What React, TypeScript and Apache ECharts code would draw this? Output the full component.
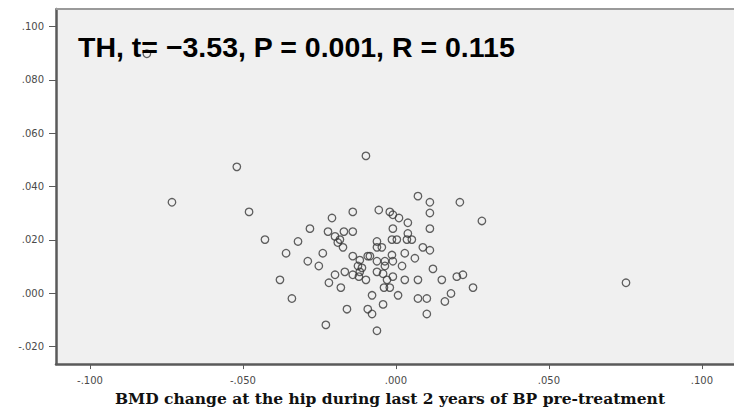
import React, { useEffect, useRef } from "react";
import * as echarts from "echarts";

// BMD change at the hip (x) vs. outcome (y)
const bmdChange: number[] = [
  -0.0814, -0.0520, -0.0732, -0.0480, -0.0098, 0.0752, -0.0428, -0.0320, -0.0281, -0.0209,
  -0.0141, -0.0056, -0.0222, -0.0170, -0.0141, -0.0199, -0.0183, -0.0190, -0.0173, -0.0359,
  -0.0239, -0.0288, -0.0252, -0.0199, -0.0167, -0.0141, -0.0379, -0.0219, -0.0180, -0.0340,
  -0.0160, -0.0229, -0.0092, -0.0078, -0.0062, -0.0078, -0.0141, -0.0118, -0.0092, -0.0124,
  -0.0111, -0.0118, -0.0121, -0.0098, -0.0062, -0.0062, -0.0062, -0.0062, -0.0046, -0.0020,
  -0.0010, 0.0010, 0.0039, 0.0072, 0.0111, 0.0209, 0.0111, 0.0281, -0.0010, 0.0111,
  0.0039, -0.0013, 0.0003, 0.0036, 0.0052, 0.0088, 0.0111, -0.0085, -0.0013, 0.0029,
  0.0062, -0.0036, -0.0010, -0.0036, 0.0020, 0.0121, -0.0029, -0.0010, 0.0029, 0.0072,
  0.0150, 0.0199, 0.0219, 0.0252, -0.0039, -0.0020, 0.0007, -0.0042, 0.0072, 0.0101,
  0.0180, 0.0160, 0.0101, -0.0042,
];

const outcome: number[] = [
  0.0898, 0.0474, 0.0341, 0.0305, 0.0515, 0.0039, 0.0201, 0.0194, 0.0242, 0.0282,
  0.0305, 0.0312, 0.0231, 0.0231, 0.0231, 0.0213, 0.0201, 0.0190, 0.0172, 0.0150,
  0.0150, 0.0120, 0.0102, 0.0069, 0.0080, 0.0069, 0.0050, 0.0039, 0.0021, -0.0020,
  -0.0060, -0.0119, -0.0060, -0.0078, -0.0141, -0.0008, 0.0139, 0.0124, 0.0139, 0.0102,
  0.0095, 0.0080, 0.0062, 0.0050, 0.0120, 0.0080, 0.0194, 0.0172, 0.0172, 0.0305,
  0.0294, 0.0282, 0.0264, 0.0364, 0.0341, 0.0341, 0.0301, 0.0271, 0.0242, 0.0242,
  0.0224, 0.0201, 0.0201, 0.0201, 0.0201, 0.0172, 0.0161, 0.0139, 0.0143, 0.0150,
  0.0131, 0.0120, 0.0120, 0.0102, 0.0102, 0.0091, 0.0050, 0.0062, 0.0050, 0.0050,
  0.0050, 0.0062, 0.0069, 0.0021, 0.0021, 0.0021, -0.0008, -0.0042, -0.0020, -0.0020,
  -0.0001, -0.0031, -0.0078, 0.0073,
];

const xTicks: number[] = [-0.1, -0.05, 0, 0.05, 0.1];
const yTicks: number[] = [-0.02, 0, 0.02, 0.04, 0.06, 0.08, 0.1];

const titleText = "TH, t= \u22123.53, P = 0.001, R = 0.115";
const xAxisName = "BMD change at the hip during last 2 years of BP pre-treatment";

const fmt = (v: number) => {
  const s = Math.abs(v).toFixed(3).replace(/^0/, "");
  return (v < -1e-9 ? "-" : "") + s;
};

export default function App() {
  const ref = useRef<HTMLDivElement>(null);
  useEffect(() => {
    if (!ref.current) return;
    const chart = echarts.init(ref.current, undefined, { renderer: "svg" });
    const data = bmdChange.map((x, i) => [x, outcome[i]]);
    chart.setOption({
      animation: false,
      backgroundColor: "#ffffff",
      grid: {
        left: 56,
        top: 9,
        width: 678,
        height: 364,
        show: true,
        backgroundColor: "#f0f0f0",
        borderWidth: 0,
      },
      xAxis: {
        type: "value",
        min: -0.1111,
        max: 0.1105,
        splitLine: { show: false },
        axisLine: { show: true, onZero: false, lineStyle: { color: "#5a5a5a", width: 2.5 } },
        axisTick: { show: true, customValues: xTicks, length: 5, lineStyle: { color: "#5a5a5a", width: 1 } },
        axisLabel: {
          customValues: xTicks,
          formatter: fmt,
          color: "#4a4a4a",
          fontSize: 10,
          fontFamily: "DejaVu Sans",
          margin: 11,
        },
        name: xAxisName,
        nameLocation: "middle",
        nameGap: 22,
        nameTextStyle: {
          fontFamily: "DejaVu Serif",
          fontWeight: "bold",
          fontSize: 15.5,
          color: "#111",
          padding: [0, 10, 0, 0],
        },
      },
      yAxis: {
        type: "value",
        min: -0.0266,
        max: 0.1066,
        splitLine: { show: false },
        axisLine: { show: true, onZero: false, lineStyle: { color: "#5a5a5a", width: 2.5 } },
        axisTick: { show: true, customValues: yTicks, length: 7, lineStyle: { color: "#5a5a5a", width: 1 } },
        axisLabel: {
          customValues: yTicks,
          formatter: fmt,
          color: "#4a4a4a",
          fontSize: 10,
          fontFamily: "DejaVu Sans",
          margin: 12,
        },
      },
      graphic: [
        {
          type: "line",
          shape: { x1: 56, y1: 9, x2: 734, y2: 9 },
          style: { stroke: "#9a9a9a", lineWidth: 2 },
          z: 10,
        },
        {
          type: "text",
          x: 78,
          y: 47,
          style: {
            text: titleText,
            fontFamily: "Liberation Sans",
            fontWeight: "bold",
            fontSize: 28.5,
            fill: "#000",
            verticalAlign: "middle",
            align: "left",
          },
          z: 20,
        },
      ],
      series: [
        {
          type: "scatter",
          data,
          symbol: "circle",
          symbolSize: 7.5,
          itemStyle: { color: "rgba(0,0,0,0)", borderColor: "#3a3a3a", borderWidth: 1.3 },
        },
      ],
    });
    return () => chart.dispose();
  }, []);
  return (
    <div
      ref={ref}
      style={{ position: "absolute", left: 0, top: 0, width: 734, height: 411 }}
    />
  );
}
